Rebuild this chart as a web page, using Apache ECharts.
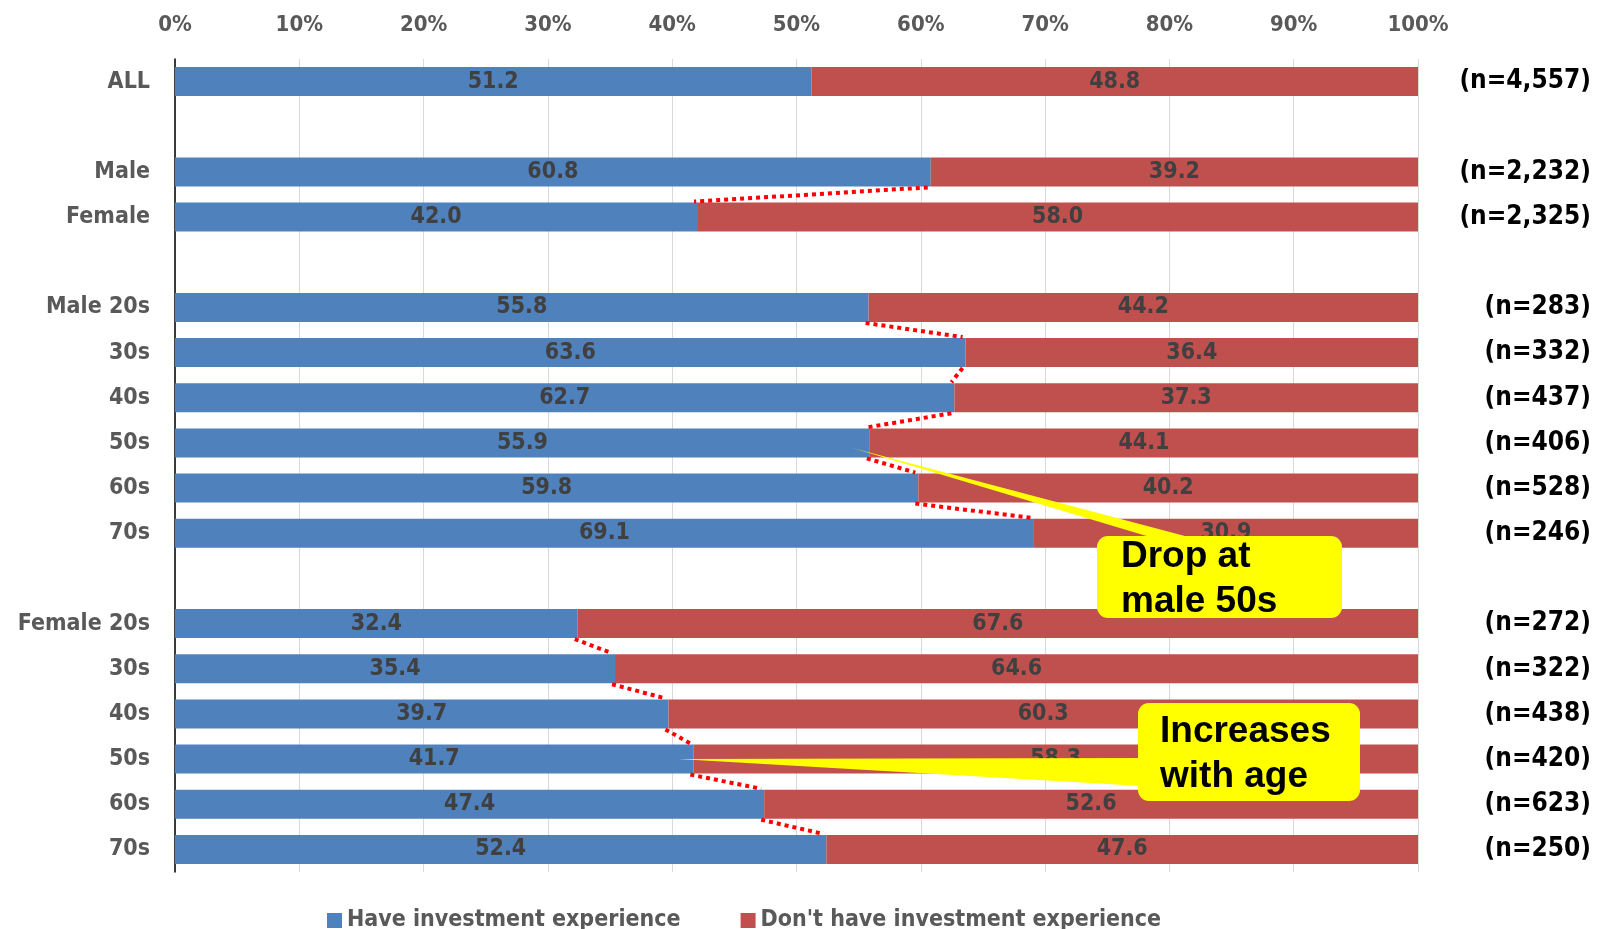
<!DOCTYPE html>
<html>
<head>
<meta charset="utf-8">
<title>Investment experience by gender and age</title>
<script src="https://cdn.jsdelivr.net/npm/echarts@6/dist/echarts.min.js"></script>
<style>
  html, body { margin: 0; padding: 0; background: #fff; }
  #chart { width: 1601px; height: 929px; }
</style>
</head>
<body>
<div id="chart"></div>
<script>
// Row labels (blank entries are spacer rows between groups)
const categories = ['ALL', '', 'Male', 'Female', '', 'Male 20s', '30s', '40s', '50s', '60s', '70s', '',
  'Female 20s', '30s', '40s', '50s', '60s', '70s'];

// Share of respondents (%)
const haveExperience = [51.2, '-', 60.8, 42.0, '-', 55.8, 63.6, 62.7, 55.9, 59.8, 69.1, '-',
  32.4, 35.4, 39.7, 41.7, 47.4, 52.4];
const noExperience = [48.8, '-', 39.2, 58.0, '-', 44.2, 36.4, 37.3, 44.1, 40.2, 30.9, '-',
  67.6, 64.6, 60.3, 58.3, 52.6, 47.6];

// Sample sizes shown at the right of each row
const sampleSizes = ['(n=4,557)', '', '(n=2,232)', '(n=2,325)', '', '(n=283)', '(n=332)', '(n=437)',
  '(n=406)', '(n=528)', '(n=246)', '', '(n=272)', '(n=322)', '(n=438)', '(n=420)', '(n=623)', '(n=250)'];

// Pairs of rows joined by a dotted trend line at the end of the blue segment
const trendLinks = [[2, 3], [5, 6], [6, 7], [7, 8], [8, 9], [9, 10],
  [12, 13], [13, 14], [14, 15], [15, 16], [16, 17]];

const xTicks = [0, 10, 20, 30, 40, 50, 60, 70, 80, 90, 100];

const seriesNames = ['Have investment experience', "Don't have investment experience"];

const BAR_W = 29;
const FONT = '"DejaVu Sans Condensed", "DejaVu Sans", sans-serif';

const chart = echarts.init(document.getElementById('chart'), null, { renderer: 'canvas' });

const linkData = trendLinks.map(([a, b]) => [haveExperience[a], a, haveExperience[b], b]);

const segLabel = {
  show: true,
  position: 'inside',
  color: '#404040',
  fontFamily: FONT,
  fontWeight: 'bold',
  fontSize: 23,
  formatter: p => (typeof p.value === 'number' ? p.value.toFixed(1) : '')
};

chart.setOption({
  animation: false,
  backgroundColor: '#ffffff',
  textStyle: { fontFamily: FONT },
  grid: { left: 175, right: 183, top: 59, bottom: 57, containLabel: false },
  legend: {
    data: seriesNames,
    left: 322,
    top: 904,
    icon: 'rect',
    itemWidth: 15,
    itemHeight: 15,
    itemGap: 60,
    textStyle: { color: '#595959', fontFamily: FONT, fontWeight: 'bold', fontSize: 23, padding: [0, 0, 0, 0] }
  },
  xAxis: {
    type: 'value',
    position: 'top',
    min: xTicks[0],
    max: xTicks[xTicks.length - 1],
    interval: xTicks[1] - xTicks[0],
    axisLine: { show: false },
    axisTick: { show: false },
    splitLine: { show: true, lineStyle: { color: '#D9D9D9', width: 1 } },
    axisLabel: {
      formatter: '{value}%',
      margin: 23,
      color: '#595959',
      fontFamily: FONT,
      fontWeight: 'bold',
      fontSize: 22
    }
  },
  yAxis: [
    {
      type: 'category',
      data: categories,
      inverse: true,
      position: 'left',
      axisLine: { show: true, lineStyle: { color: '#000000', width: 1.5 } },
      axisTick: { show: false },
      splitLine: { show: false },
      axisLabel: {
        interval: 0,
        margin: 25,
        color: '#595959',
        fontFamily: FONT,
        fontWeight: 'bold',
        fontSize: 23
      }
    },
    {
      type: 'category',
      data: sampleSizes,
      inverse: true,
      position: 'right',
      axisLine: { show: false },
      axisTick: { show: false },
      splitLine: { show: false },
      axisLabel: {
        interval: 0,
        margin: 173,
        align: 'right',
        color: '#000000',
        fontFamily: FONT,
        fontWeight: 'bold',
        fontSize: 26
      }
    }
  ],
  series: [
    {
      name: seriesNames[0],
      type: 'bar',
      stack: 'share',
      yAxisIndex: 0,
      barWidth: BAR_W,
      data: haveExperience,
      itemStyle: { color: '#4F81BD' },
      label: segLabel,
      z: 2
    },
    {
      name: seriesNames[1],
      type: 'bar',
      stack: 'share',
      yAxisIndex: 0,
      barWidth: BAR_W,
      data: noExperience,
      itemStyle: { color: '#C0504D' },
      label: segLabel,
      z: 2
    },
    {
      name: 'trend',
      type: 'custom',
      yAxisIndex: 0,
      data: linkData,
      encode: { x: [0, 2], y: [1, 3] },
      silent: true,
      z: 5,
      renderItem: (params, api) => {
        const p1 = api.coord([api.value(0), api.value(1)]);
        const p2 = api.coord([api.value(2), api.value(3)]);
        const half = BAR_W / 2;
        return {
          type: 'line',
          shape: { x1: p1[0] - 3, y1: p1[1] + half + 1, x2: p2[0] - 3, y2: p2[1] - half - 1 },
          style: { stroke: '#FF0000', lineWidth: 4, lineDash: [4, 4] }
        };
      }
    }
  ]
});

// Yellow call-out boxes pointing into the rows they comment on
function callout(tip, box, base, lines) {
  return {
    type: 'group',
    z: 100,
    children: [
      {
        type: 'polygon',
        z: 100,
        shape: { points: [tip, base[0], base[1]] },
        style: { fill: '#FFFF00' }
      },
      {
        type: 'rect',
        z: 100,
        shape: { x: box.x, y: box.y, width: box.w, height: box.h, r: 11 },
        style: { fill: '#FFFF00' }
      },
      {
        type: 'text',
        z: 101,
        x: box.x + box.pad,
        y: box.y + box.h / 2 + 2,
        style: {
          text: lines.join('\n'),
          fill: '#000000',
          font: 'bold 37px "Liberation Sans", Arial, sans-serif',
          lineHeight: 45,
          align: 'left',
          verticalAlign: 'middle'
        }
      }
    ]
  };
}

const tipMale = chart.convertToPixel({ gridIndex: 0 }, [haveExperience[8] - 1.4, 8]);
const tipFemale = chart.convertToPixel({ gridIndex: 0 }, [haveExperience[15] - 1.2, 15]);

chart.setOption({
  graphic: [
    callout([tipMale[0], tipMale[1] + 5],
      { x: 1097, y: 536, w: 245, h: 82, pad: 24 },
      [[1160, 540], [1200, 540]],
      ['Drop at', 'male 50s']),
    callout([tipFemale[0], tipFemale[1]],
      { x: 1138, y: 703, w: 222, h: 98, pad: 22 },
      [[1142, 758], [1142, 786]],
      ['Increases', 'with age'])
  ]
});
</script>
</body>
</html>
